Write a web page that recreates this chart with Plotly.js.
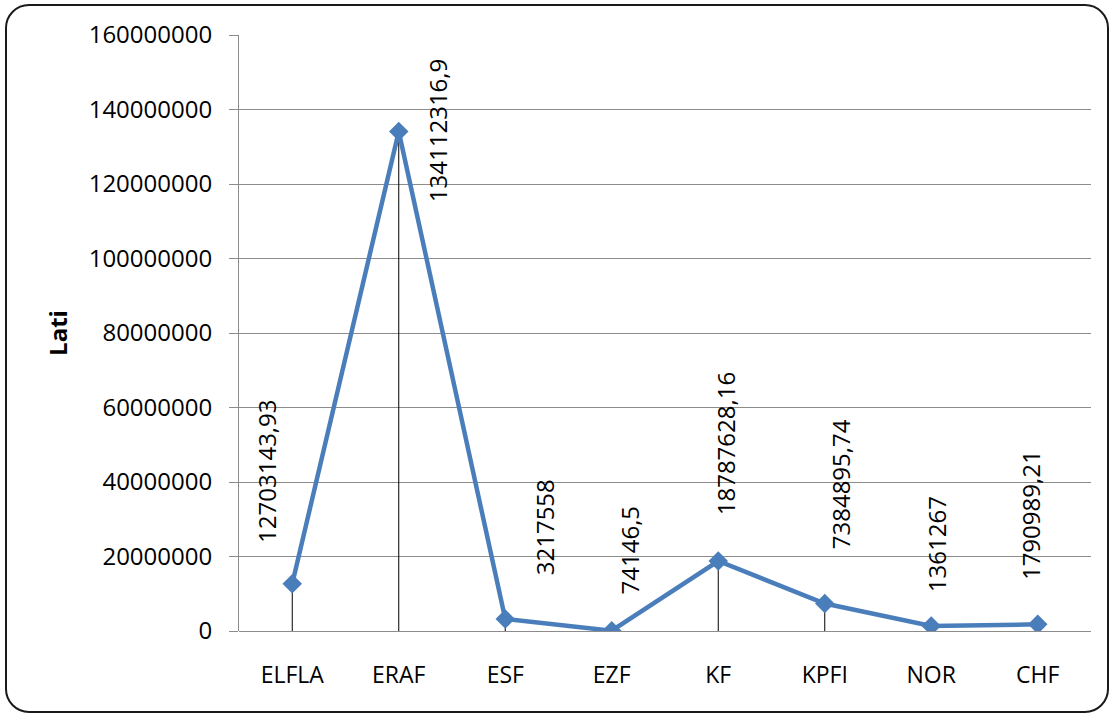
<!DOCTYPE html>
<html>
<head>
<meta charset="utf-8">
<script src="https://cdn.plot.ly/plotly-3.0.1.min.js"></script>
<style>
  html, body { margin: 0; padding: 0; background: #fff; overflow: hidden; }
  #wrap { position: relative; width: 1110px; height: 713px; }
  #chart { position: absolute; left: 0; top: 0; width: 1110px; height: 713px; }
  #frame { position: absolute; left: 5px; top: 4px; width: 1104px; height: 709px;
           border: 2.5px solid #1a1a1a; border-radius: 24px; pointer-events: none; box-sizing: border-box; }
</style>
</head>
<body>
<div id="wrap">
  <div id="chart"></div>
  <div id="frame"></div>
</div>
<script>
// Data
const categories = ["ELFLA", "ERAF", "ESF", "EZF", "KF", "KPFI", "NOR", "CHF"];
const values = [12703143.93, 134112316.9, 3217558, 74146.5, 18787628.16, 7384895.74, 1361267, 1790989.21];
const yTitle = "Lati";

// Label placement (pixel shifts relative to each point)
const labelDX = [-26, 39, 39, 18, 7, 16, 6, -7];
const labelDY = [112, 1, 92, 81, 117, 119, 82, 109];

const FONT = "Open Sans, Noto Sans, sans-serif";

const trace = {
  type: "scatter",
  mode: "lines+markers",
  x: categories,
  y: values,
  line: { color: "#4A7EBB", width: 4.5 },
  marker: { symbol: "diamond", size: 15, color: "#4A7EBB" },
  error_y: {
    type: "data",
    symmetric: false,
    array: values.map(() => 0),
    arrayminus: values,
    color: "#000000",
    thickness: 1,
    width: 0
  },
  hoverinfo: "x+y"
};

const annotations = categories.map((c, i) => ({
  x: c,
  y: values[i],
  xref: "x",
  yref: "y",
  text: String(values[i]).replace(".", ","),
  textangle: -90,
  showarrow: false,
  xshift: labelDX[i],
  yshift: labelDY[i],
  font: { family: FONT, size: 24, color: "#000" }
}));

const layout = {
  width: 1110,
  height: 713,
  margin: { l: 239, r: 19, t: 35, b: 82 },
  paper_bgcolor: "#ffffff",
  plot_bgcolor: "#ffffff",
  showlegend: false,
  font: { family: FONT, color: "#000" },
  xaxis: {
    type: "category",
    range: [-0.5, categories.length - 0.5],
    showgrid: false,
    zeroline: false,
    showline: false,
    ticks: "",
    ticklabelstandoff: 28,
    tickfont: { family: FONT, size: 23, color: "#000" }
  },
  yaxis: {
    range: [0, 160000000],
    dtick: 20000000,
    tick0: 0,
    tickformat: "d",
    showgrid: true,
    gridcolor: "#8c8c8c",
    gridwidth: 1,
    zeroline: true,
    zerolinecolor: "#8c8c8c",
    zerolinewidth: 1,
    showline: true,
    linecolor: "#8c8c8c",
    linewidth: 1,
    ticks: "outside",
    ticklen: 9,
    tickcolor: "#8c8c8c",
    ticklabelstandoff: 12,
    tickfont: { family: FONT, size: 24, color: "#000" },
    title: { text: "<b>" + yTitle + "</b>", font: { family: FONT, size: 24, color: "#000" }, standoff: 14 }
  },
  annotations: annotations
};

Plotly.newPlot("chart", [trace], layout, { displayModeBar: false, staticPlot: true });
</script>
</body>
</html>
